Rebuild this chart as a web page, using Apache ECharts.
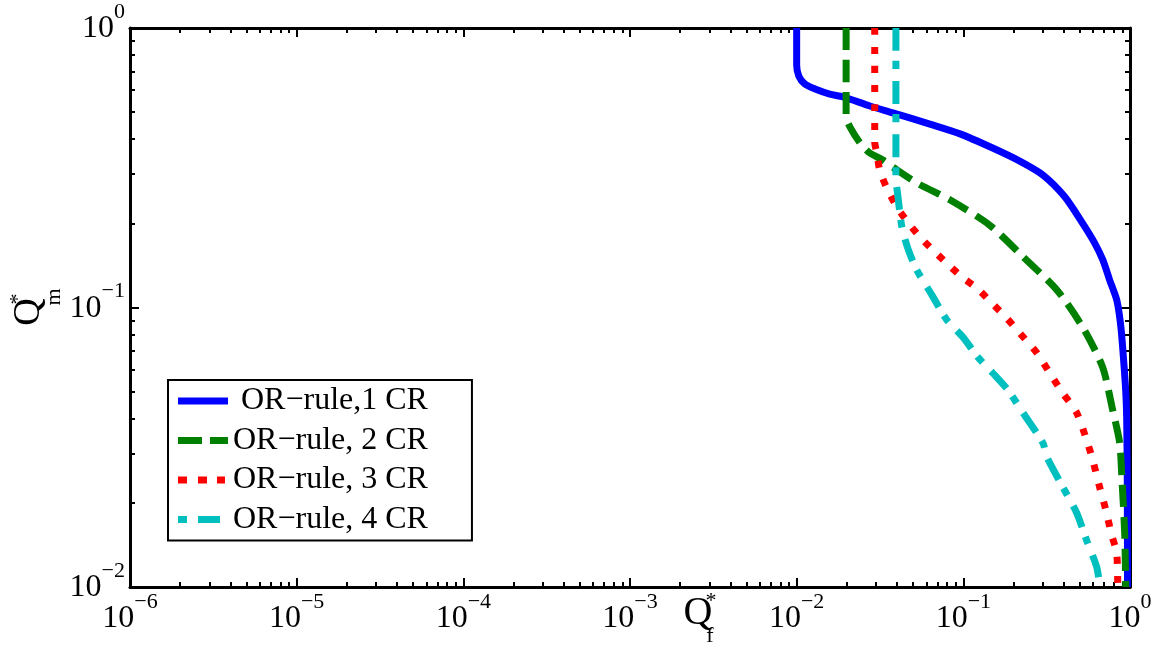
<!DOCTYPE html>
<html><head><meta charset="utf-8">
<script src="https://cdn.jsdelivr.net/npm/echarts@6/dist/echarts.min.js"></script>
<style>html,body{margin:0;padding:0;background:#fff}#c{width:1167px;height:648px}</style>
</head><body><div id="c"></div>
<script>
// ---- data ----
const seriesNames = [' OR\u2212rule,1 CR', 'OR\u2212rule, 2 CR', 'OR\u2212rule, 3 CR', 'OR\u2212rule, 4 CR'];
const seriesColors = ['#0000ff', '#008000', '#ff0000', '#00bfbf'];
const cr1 = [[0.01,1],[0.01,0.737],[0.0103,0.673],[0.0112,0.63],[0.0129,0.605],[0.0158,0.58],[0.019,0.567],[0.0275,0.526],[0.0378,0.497],[0.063,0.453],[0.0955,0.418],[0.15,0.372],[0.218,0.334],[0.30,0.298],[0.406,0.249],[0.52,0.200],[0.614,0.17],[0.687,0.148],[0.755,0.1254],[0.834,0.106],[0.879,0.0866],[0.906,0.0705],[0.942,0.0507],[0.955,0.0406],[0.963,0.024],[0.966,0.01]];
const cr2 = [[0.0198,1],[0.0198,0.48],[0.0209,0.442],[0.024,0.388],[0.0275,0.357],[0.0329,0.337],[0.0377,0.318],[0.0526,0.279],[0.083,0.243],[0.144,0.197],[0.228,0.152],[0.364,0.1156],[0.52,0.0851],[0.685,0.0612],[0.787,0.043],[0.867,0.0328],[0.893,0.0248],[0.929,0.0156],[0.943,0.01]];
const cr3 = [[0.0294,1],[0.0294,0.39],[0.0303,0.357],[0.0315,0.31],[0.0347,0.268],[0.0399,0.229],[0.0464,0.202],[0.0548,0.179],[0.0656,0.1606],[0.0796,0.144],[0.098,0.1286],[0.1205,0.1174],[0.148,0.1038],[0.182,0.0917],[0.218,0.081],[0.276,0.0688],[0.33,0.0583],[0.395,0.0494],[0.479,0.042],[0.549,0.0336],[0.597,0.0285],[0.657,0.0228],[0.724,0.0184],[0.77,0.0156],[0.832,0.0132],[0.844,0.01]];
const cr4 = [[0.0394,1],[0.0394,0.29],[0.0404,0.253],[0.0428,0.194],[0.0464,0.163],[0.0526,0.136],[0.0647,0.111],[0.0796,0.0902],[0.0993,0.0784],[0.122,0.0665],[0.15,0.0583],[0.185,0.0507],[0.228,0.042],[0.30,0.0328],[0.317,0.0292],[0.395,0.0228],[0.479,0.0184],[0.549,0.0147],[0.631,0.0118],[0.66,0.01]];
const xMinExp = -6, xMaxExp = 0;
const yMinExp = -2, yMaxExp = 0;
const minorMultipliers = [2,3,4,5,6,7,8,9];

// ---- build ----
const FONT = "'Liberation Serif','Times New Roman',serif";
function minorTicks(lo, hi) {
  const out = [];
  for (let n = lo; n < hi; n++) for (const k of minorMultipliers) out.push(n + Math.log10(k));
  return out;
}
const xMinor = minorTicks(xMinExp, xMaxExp);
const yMinor = minorTicks(yMinExp, yMaxExp);

const rich = {
  b: {fontSize: 32, lineHeight: 44, fontFamily: FONT, color: '#000', verticalAlign: 'bottom'},
  s: {fontSize: 22, lineHeight: 44, fontFamily: FONT, color: '#000', verticalAlign: 'top'}
};
function expLabel(v) {
  const e = Math.round(Math.log10(v));
  return '{b|10}{s|' + (e < 0 ? '\u2212' + (-e) : e) + '}';
}
const lineStyleAxis = {color: '#000', width: 3};
function majorLog(pos, min, max, withLabels, isY) {
  return {
    type: 'log', logBase: 10, position: pos, min: min, max: max, interval: 1,
    axisLine: {show: true, onZero: false, lineStyle: lineStyleAxis},
    axisTick: {show: true, inside: true, length: 9, lineStyle: {color: '#000', width: 2}},
    minorTick: {show: false},
    splitLine: {show: false},
    axisLabel: withLabels ? {
      show: true, formatter: expLabel, rich: rich, margin: isY ? 5 : 4,
      padding: isY ? [0, 0, 10, 0] : 0
    } : {show: false}
  };
}
function minorVal(pos, min, max, vals) {
  return {
    type: 'value', position: pos, min: min, max: max,
    axisLine: {show: false, onZero: false},
    axisTick: {show: true, inside: true, length: 5, customValues: vals, lineStyle: {color: '#000', width: 2}},
    splitLine: {show: false},
    axisLabel: {show: false}
  };
}
const dashTypes = ['solid', [22, 10], [7, 12], [23, 10, 8, 12]];
const legendIcons = [
  'path://M0,3.5L50,3.5M0,0L50,0L50,7L0,7Z',
  'path://M0,3.5L50,3.5M0,0L24,0L24,7L0,7ZM32,0L50,0L50,7L32,7Z',
  'path://M0,3.5L50,3.5M0,0L9,0L9,7L0,7ZM20,0L29,0L29,7L20,7ZM39,0L47,0L47,7L39,7Z',
  'path://M0,3.5L50,3.5M0,0L9,0L9,7L0,7ZM20,0L42,0L42,7L20,7Z'
];
const dataSets = [cr1, cr2, cr3, cr4];
const series = dataSets.map((d, i) => ({
  name: seriesNames[i], type: 'line', data: d, symbol: 'none', showSymbol: false,
  xAxisIndex: 0, yAxisIndex: 0,
  smooth: 0.25,
  lineStyle: {color: seriesColors[i], width: 7, type: dashTypes[i], cap: 'butt', join: 'round'},
  itemStyle: {color: seriesColors[i], borderWidth: 0},
  z: 2 + i, animation: false
}));

const chart = echarts.init(document.getElementById('c'), null, {renderer: 'canvas'});
chart.setOption({
  animation: false,
  backgroundColor: '#fff',
  grid: {left: 130, top: 28, width: 1000, height: 559, containLabel: false},
  xAxis: [
    majorLog('bottom', Math.pow(10, xMinExp), Math.pow(10, xMaxExp), true, false),
    minorVal('bottom', xMinExp, xMaxExp, xMinor),
    majorLog('top', Math.pow(10, xMinExp), Math.pow(10, xMaxExp), false, false),
    minorVal('top', xMinExp, xMaxExp, xMinor)
  ],
  yAxis: [
    majorLog('left', Math.pow(10, yMinExp), Math.pow(10, yMaxExp), true, true),
    minorVal('left', yMinExp, yMaxExp, yMinor),
    majorLog('right', Math.pow(10, yMinExp), Math.pow(10, yMaxExp), false, true),
    minorVal('right', yMinExp, yMaxExp, yMinor)
  ],
  legend: {
    show: true, orient: 'vertical', left: 168, top: 380,
    data: seriesNames.map((n, i) => ({name: n, icon: legendIcons[i]})),
    backgroundColor: '#fff', borderColor: '#000', borderWidth: 2, borderRadius: 0,
    padding: [5, 44, 5, 10], itemWidth: 50, itemHeight: 7, itemGap: 7.5,
    itemStyle: {borderWidth: 0},
    textStyle: {fontSize: 32, fontFamily: FONT, color: '#000'},
    selectedMode: false
  },
  graphic: [
    {type: 'text', x: 698, y: 613, style: {text: 'Q', font: "40px " + FONT, fill: '#000', align: 'center', verticalAlign: 'middle', textAlign: 'center', textVerticalAlign: 'middle'}},
    {type: 'text', x: 711, y: 601, style: {text: '*', font: "22px " + FONT, fill: '#000', align: 'center', verticalAlign: 'middle', textAlign: 'center', textVerticalAlign: 'middle'}},
    {type: 'text', x: 710, y: 636, style: {text: 'f', font: "22px " + FONT, fill: '#000', align: 'center', verticalAlign: 'middle', textAlign: 'center', textVerticalAlign: 'middle'}},
    {type: 'text', x: 29, y: 312, rotation: Math.PI / 2, style: {text: 'Q', font: "38px " + FONT, fill: '#000', align: 'center', verticalAlign: 'middle', textAlign: 'center', textVerticalAlign: 'middle'}},
    {type: 'text', x: 18, y: 299, rotation: Math.PI / 2, style: {text: '*', font: "22px " + FONT, fill: '#000', align: 'center', verticalAlign: 'middle', textAlign: 'center', textVerticalAlign: 'middle'}},
    {type: 'text', x: 54, y: 297, rotation: Math.PI / 2, style: {text: 'm', font: "22px " + FONT, fill: '#000', align: 'center', verticalAlign: 'middle', textAlign: 'center', textVerticalAlign: 'middle'}}
  ],
  series: series
});
</script>
</body></html>
